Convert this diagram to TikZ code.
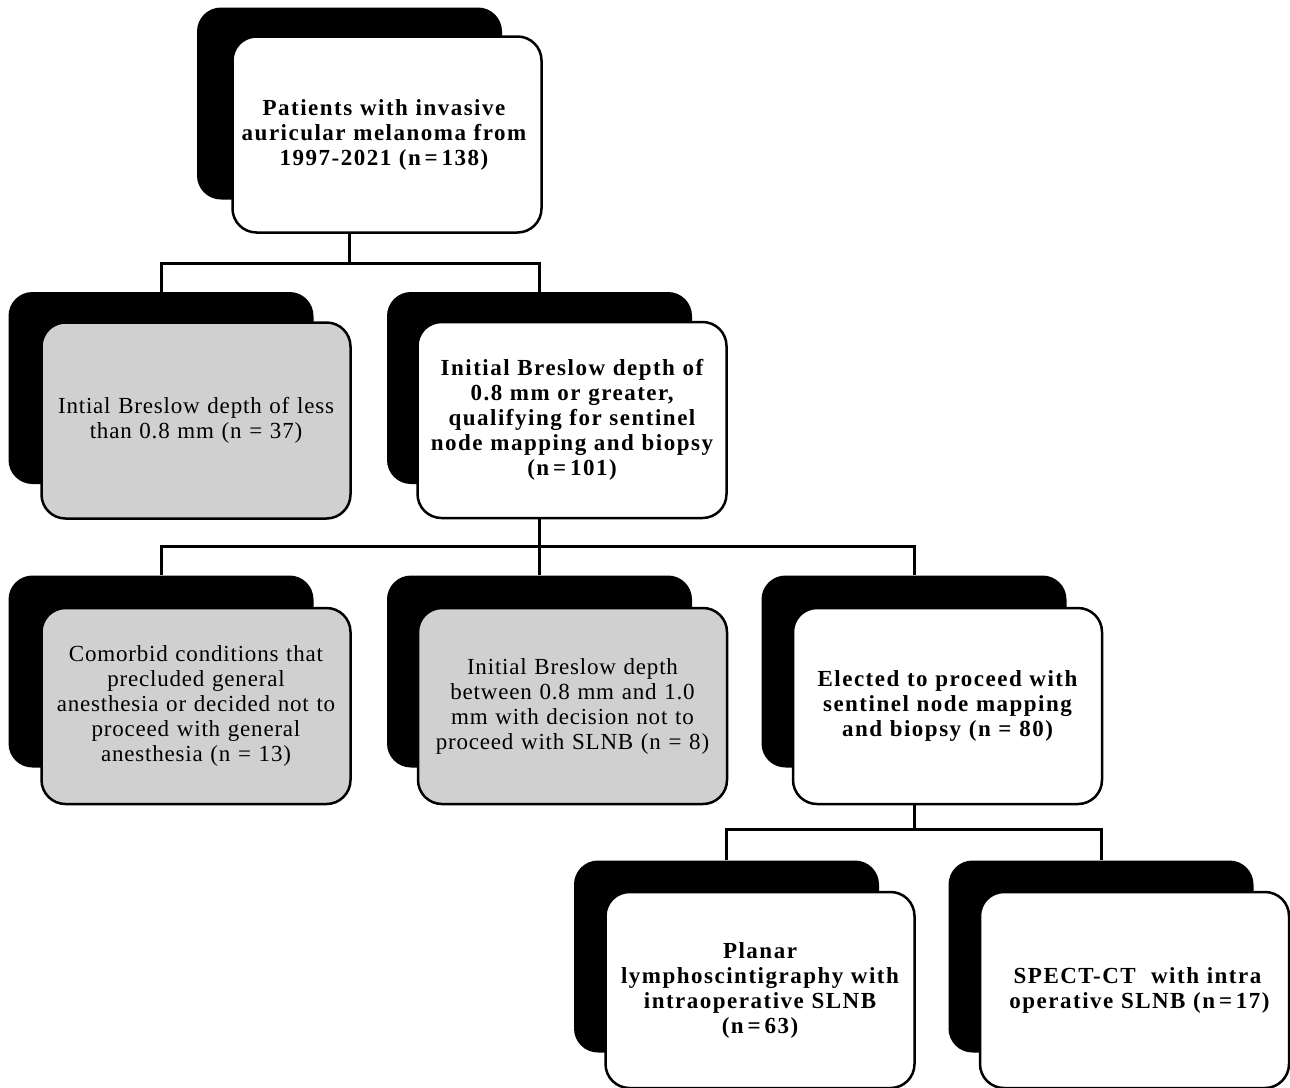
\documentclass[tikz,border=0pt]{standalone}
\usepackage{fontspec}
\setmainfont{Liberation Serif}
\newfontfamily\boldsp[LetterSpace=6.5]{Liberation Serif Bold}
\newfontfamily\regsp[LetterSpace=3.5]{Liberation Serif}
\definecolor{boxgray}{RGB}{208,208,208}
\tikzset{
  shadowbox/.style={fill=black, draw=none, rounded corners=24pt, minimum width=305pt, minimum height=192pt, inner sep=0pt},
  frontbox/.style={draw=black, line width=2.5pt, rounded corners=24pt, minimum width=309pt, minimum height=196pt, align=center, text width=300pt, inner sep=0pt, font=\fontsize{23}{25}\selectfont},
  whitebox/.style={frontbox, fill=white, font=\fontsize{23}{25}\selectfont\boldsp},
  graybox/.style={frontbox, fill=boxgray, font=\fontsize{23}{25}\selectfont\regsp},
  link/.style={draw=black, line width=3pt}
}
\begin{document}
\begin{tikzpicture}[x=1pt,y=1pt]
\useasboundingbox (0,0) rectangle (1290,-1087);
% shadows
\node[shadowbox] (s1) at (349.5,-103.5) {};
\node[shadowbox] (s2) at (161,-388) {};
\node[shadowbox] (s3) at (539.5,-388) {};
\node[shadowbox] (s4) at (161,-671.5) {};
\node[shadowbox] (s5) at (539.5,-671.5) {};
\node[shadowbox] (s6) at (914,-671.5) {};
\node[shadowbox] (s7) at (726.5,-956.5) {};
\node[shadowbox] (s8) at (1101,-956.5) {};
% front boxes
\node[whitebox] (b1) at (387,-134.5) {\hspace*{-6pt}Patients with invasive\\\hspace*{-6pt}auricular melanoma from\\\hspace*{-6pt}1997-2021 (n\,=\,138)};
\node[graybox] (b2) at (196,-420.5) {Intial Breslow depth of less\\than 0.8 mm (n = 37)};
\node[whitebox] (b3) at (572,-420) {Initial Breslow depth of\\0.8 mm or greater,\\qualifying for sentinel\\node mapping and biopsy\\(n\,=\,101)};
\node[graybox] (b4) at (196,-706) {Comorbid conditions that\\precluded general\\anesthesia or decided not to\\proceed with general\\anesthesia (n = 13)};
\node[graybox] (b5) at (572.5,-706) {Initial Breslow depth\\between 0.8 mm and 1.0\\mm with decision not to\\proceed with SLNB (n = 8)};
\node[whitebox] (b6) at (947.5,-706) {Elected to proceed with\\sentinel node mapping\\and biopsy (n = 80)};
\node[whitebox] (b7) at (760,-990) {Planar\\lymphoscintigraphy with\\intraoperative SLNB\\(n\,=\,63)};
\node[whitebox] (b8) at (1134.5,-990) {\hspace*{6pt}SPECT-CT\ \ with intra\\\hspace*{10pt}operative SLNB (n\,=\,17)};
% junctions
\path (s1.center |- 0,-263) coordinate (j1);
\path (s3.center |- 0,-546) coordinate (j2);
\path (s6.center |- 0,-829) coordinate (j3);
% connectors
\draw[link] (b1.south -| s1.center) -- (j1);
\draw[link] (s2.north) |- (j1) -| (s3.north);
\draw[link] (b3.south -| s3.center) -- (j2);
\draw[link] (s4.north) |- (j2) -| (s6.north);
\draw[link] (j2) -- (s5.north);
\draw[link] (b6.south -| s6.center) -- (j3);
\draw[link] (s7.north) |- (j3) -| (s8.north);
\end{tikzpicture}
\end{document}
